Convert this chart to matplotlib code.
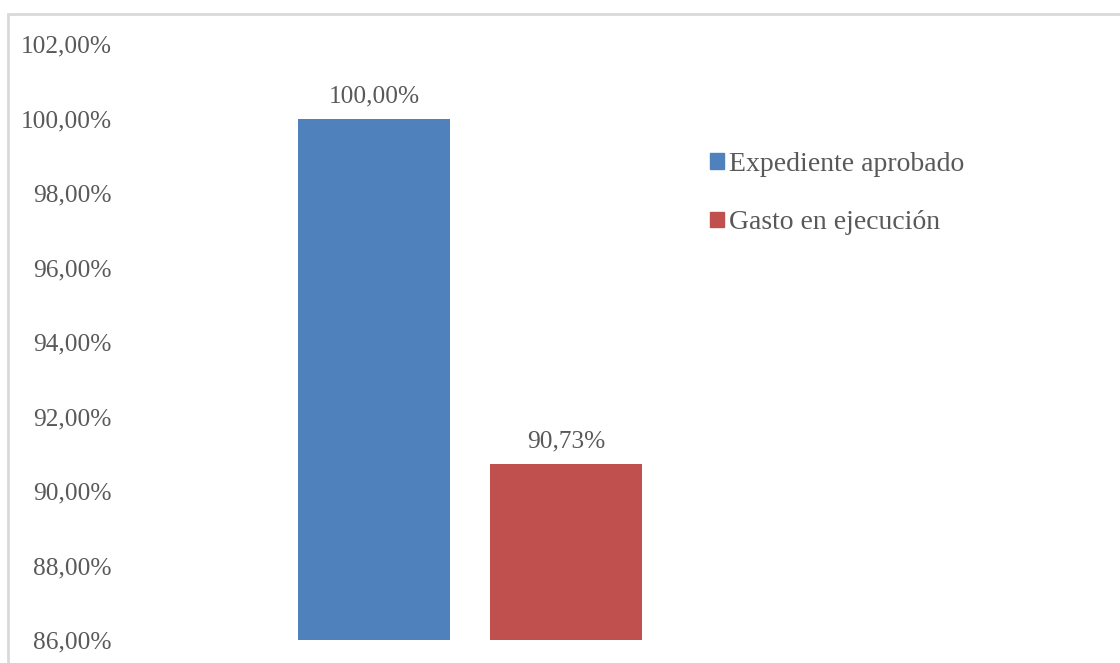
import matplotlib
matplotlib.use("Agg")
from matplotlib import pyplot as plt
from matplotlib.patches import Rectangle

# data
series = ["Expediente aprobado", "Gasto en ejecución"]
values = [100.00, 90.73]
colors = ["#4f81bd", "#c0504d"]
y_ticks = [86, 88, 90, 92, 94, 96, 98, 100, 102]

TEXT_GREY = "#595959"
FONT = "Liberation Serif"
FS = 18.3
LEG_FS = 20


def pct(v):
    return f"{v:.2f}".replace(".", ",") + "%"


fig = plt.figure(figsize=(11.2, 6.63), dpi=100)
W, H = 1120, 663

# outer light-grey border (chart area, cropped on right/bottom)
fig.patches.append(Rectangle((8 / W, -0.01), 1.2, (663 - 14) / H + 0.01,
                             transform=fig.transFigure, fill=False,
                             edgecolor="#d9d9d9", linewidth=2))

ax = fig.add_axes([120 / W, 23 / H, 570 / W, (640 - 44) / H])

x = list(range(len(series)))
bars = ax.bar(x, values, width=0.79, color=colors, label=series, bottom=0)

ax.set_ylim(86, 102)
ax.set_yticks(y_ticks)
ax.set_yticklabels([pct(t) for t in y_ticks], fontsize=FS, family=FONT, color=TEXT_GREY)
ax.tick_params(axis="y", length=0, pad=6)
ax.set_xticks([])

# place bars: centre 0 -> pixel 374, centre 1 -> pixel 566
unit = 192 / 1.0
left = -(374 - 120) / unit
ax.set_xlim(left, left + 570 / unit)

for s in ax.spines.values():
    s.set_visible(False)

for b, v in zip(bars, values):
    ax.text(b.get_x() + b.get_width() / 2, v + 0.3, pct(v), ha="center", va="bottom",
            fontsize=FS, family=FONT, color=TEXT_GREY)

handles = [Rectangle((0, 0), 1, 1, color=c) for c in colors]
leg = fig.legend(handles, series, loc="upper left", bbox_to_anchor=(685 / W, 1 - 127 / H),
                 frameon=False, prop={"family": FONT, "size": LEG_FS},
                 handlelength=0.5, handleheight=0.5, handletextpad=0.2,
                 labelspacing=1.2, labelcolor=TEXT_GREY)

fig.savefig("out.png", dpi=100)
